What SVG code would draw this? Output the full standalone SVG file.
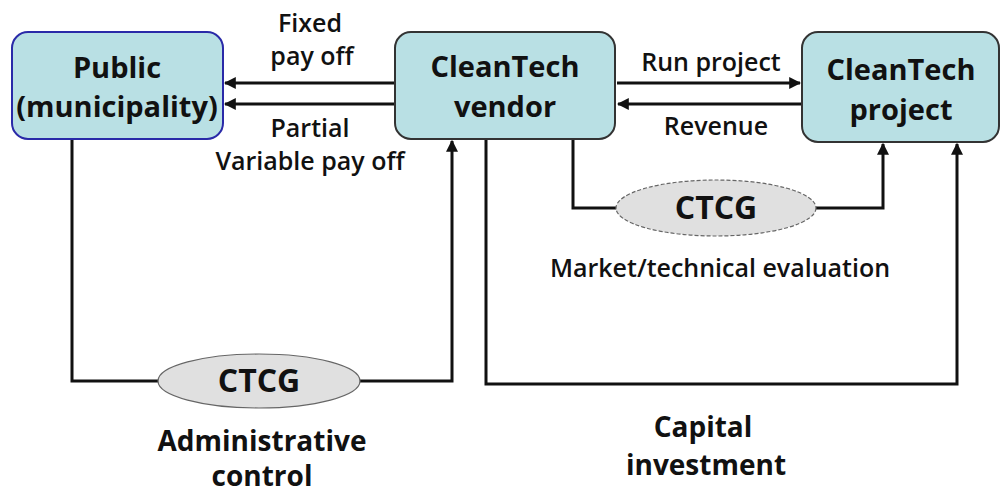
<svg xmlns="http://www.w3.org/2000/svg" width="1003" height="495" viewBox="0 0 1003 495">
  <style>
    .box { fill: #b9e0e4; stroke: #333; stroke-width: 2; }
    .box.pub { stroke: #2a2aa8; }
    .title { font-family: "Open Sans", "Noto Sans", sans-serif; font-weight: 700; font-size: 29px; fill: #111; text-anchor: middle; }
    .lbl { font-family: "Open Sans", "Noto Sans", sans-serif; font-weight: 600; font-size: 25px; fill: #111; text-anchor: middle; }
    .cap { font-family: "Open Sans", "Noto Sans", sans-serif; font-weight: 700; font-size: 28px; fill: #111; text-anchor: middle; }
    .ctcg { font-family: "Open Sans", "Noto Sans", sans-serif; font-weight: 700; font-size: 32px; fill: #111; text-anchor: middle; }
    .wire { fill: none; stroke: #111; stroke-width: 3; }
    .oval { fill: #e0e0e0; stroke: #666; stroke-width: 1.2; }
    .oval.dash { stroke-dasharray: 4 2; }
  </style>
  <defs>
    <marker id="arrow" viewBox="0 0 10 10" refX="9" refY="5" markerWidth="4" markerHeight="4" orient="auto" markerUnits="strokeWidth">
      <path d="M0,0 L10,5 L0,10 z" fill="#111"/>
    </marker>
  </defs>

  <!-- connectors -->
  <g id="connectors">
    <line class="wire" x1="394" y1="83" x2="225" y2="83" marker-end="url(#arrow)"/>
    <line class="wire" x1="394" y1="104" x2="225" y2="104" marker-end="url(#arrow)"/>
    <line class="wire" x1="617" y1="83" x2="800" y2="83" marker-end="url(#arrow)"/>
    <line class="wire" x1="801" y1="104" x2="618" y2="104" marker-end="url(#arrow)"/>
    <polyline class="wire" points="72,139 72,381 160,381"/>
    <polyline class="wire" points="358,381 452,381 452,141" marker-end="url(#arrow)"/>
    <polyline class="wire" points="486,139 486,384 957,384 957,144" marker-end="url(#arrow)"/>
    <polyline class="wire" points="573,139 573,208 617,208"/>
    <polyline class="wire" points="815,208 883,208 883,144" marker-end="url(#arrow)"/>
  </g>

  <g id="public">
    <rect class="box pub" x="12" y="32" width="211" height="107" rx="16"/>
    <text class="title" x="117" y="78">Public</text>
    <text class="title" x="117" y="117">(municipality)</text>
  </g>

  <g id="vendor">
    <rect class="box" x="395" y="32" width="220" height="107" rx="16"/>
    <text class="title" x="505" y="77">CleanTech</text>
    <text class="title" x="505" y="117">vendor</text>
  </g>

  <g id="project">
    <rect class="box" x="802" y="32" width="197" height="110" rx="16"/>
    <text class="title" x="901" y="80">CleanTech</text>
    <text class="title" x="901" y="120">project</text>
  </g>

  <g id="ctcg-admin">
    <ellipse class="oval" cx="259" cy="381" rx="101" ry="27"/>
    <text class="ctcg" x="259" y="392">CTCG</text>
  </g>

  <g id="ctcg-eval">
    <ellipse class="oval dash" cx="716" cy="208" rx="100" ry="28"/>
    <text class="ctcg" x="716" y="219">CTCG</text>
  </g>

  <g id="labels">
    <text class="lbl" x="310" y="32">Fixed</text>
    <text class="lbl" x="312" y="65">pay off</text>
    <text class="lbl" x="310" y="137">Partial</text>
    <text class="lbl" x="310" y="170">Variable pay off</text>
    <text class="lbl" x="711" y="71">Run project</text>
    <text class="lbl" x="716" y="135">Revenue</text>
    <text class="lbl" x="720" y="277">Market/technical evaluation</text>
    <text class="cap" x="262" y="451">Administrative</text>
    <text class="cap" x="262" y="486">control</text>
    <text class="cap" x="703" y="437">Capital</text>
    <text class="cap" x="706" y="475">investment</text>
  </g>
</svg>
